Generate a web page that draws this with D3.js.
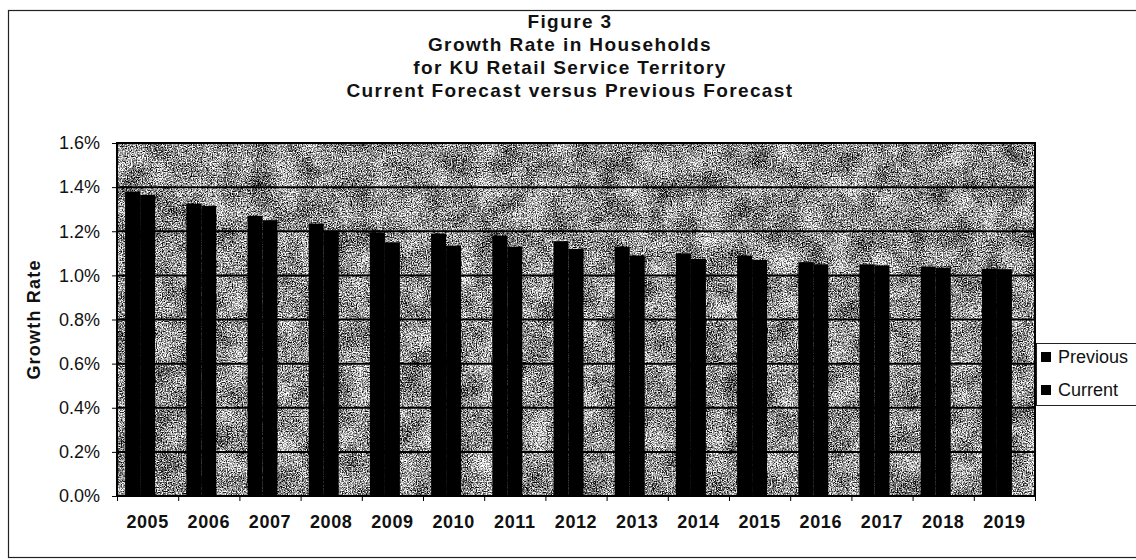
<!DOCTYPE html>
<html>
<head>
<meta charset="utf-8">
<script src="https://cdn.jsdelivr.net/npm/d3@7"></script>
<style>
  html, body { margin: 0; padding: 0; background: #fff; }
  svg { display: block; font-family: "Liberation Sans", Arial, sans-serif; }
</style>
</head>
<body>
<svg id="chart" width="1136" height="560"></svg>
<script>
// Household growth rate by forecast year (percent)
const years = ["2005","2006","2007","2008","2009","2010","2011","2012","2013","2014","2015","2016","2017","2018","2019"];
const previousForecast = [1.38, 1.325, 1.27, 1.235, 1.195, 1.19, 1.18, 1.155, 1.13, 1.10, 1.09, 1.06, 1.05, 1.04, 1.03];
const currentForecast  = [1.365, 1.315, 1.25, 1.20, 1.15, 1.135, 1.13, 1.12, 1.09, 1.075, 1.07, 1.05, 1.045, 1.035, 1.028];
const seriesNames = ["Previous", "Current"];
const yTicks = [0, 0.2, 0.4, 0.6, 0.8, 1.0, 1.2, 1.4, 1.6];
const titleLines = [
  "Figure 3",
  "Growth Rate in Households",
  "for KU Retail Service Territory",
  "Current Forecast versus Previous Forecast"
];

const svg = d3.select("#chart");
const plot = { left: 117, right: 1035, top: 143, bottom: 496 };

// mottled grey background for the plot area: fine grain lightly modulated by soft blotches
const defs = svg.append("defs");
const grain = defs.append("filter").attr("id", "grain")
  .attr("x", 0).attr("y", 0).attr("width", 1).attr("height", 1)
  .attr("color-interpolation-filters", "sRGB");
grain.append("feTurbulence").attr("type", "fractalNoise")
  .attr("baseFrequency", "0.8").attr("numOctaves", 2).attr("seed", 11).attr("result", "fineRaw");
grain.append("feColorMatrix").attr("in", "fineRaw").attr("type", "matrix")
  .attr("values", "1 0 0 0 0  1 0 0 0 0  1 0 0 0 0  0 0 0 0 1").attr("result", "fine");
grain.append("feTurbulence").attr("type", "fractalNoise")
  .attr("baseFrequency", "0.04").attr("numOctaves", 3).attr("seed", 4).attr("result", "coarseRaw");
grain.append("feColorMatrix").attr("in", "coarseRaw").attr("type", "matrix")
  .attr("values", "1 0 0 0 0  1 0 0 0 0  1 0 0 0 0  0 0 0 0 1").attr("result", "coarse");
grain.append("feComposite").attr("in", "fine").attr("in2", "coarse").attr("operator", "arithmetic")
  .attr("k1", 0).attr("k2", 1).attr("k3", 0.3).attr("k4", -0.15).attr("result", "mix");
grain.append("feColorMatrix").attr("in", "mix").attr("type", "matrix")
  .attr("values", "2.4 0 0 0 -0.64  2.4 0 0 0 -0.64  2.4 0 0 0 -0.64  0 0 0 0 1");

// outer chart frame
svg.append("rect")
  .attr("x", 8.5).attr("y", 10.5).attr("width", 1160).attr("height", 547)
  .attr("fill", "none").attr("stroke", "#222").attr("stroke-width", 1.2);

// plot area
svg.append("rect")
  .attr("x", plot.left).attr("y", plot.top)
  .attr("width", plot.right - plot.left).attr("height", plot.bottom - plot.top)
  .attr("fill", "#999").attr("filter", "url(#grain)");

const y = d3.scaleLinear().domain([0, 1.6]).range([plot.bottom, plot.top]);
const x0 = d3.scaleBand().domain(years).range([plot.left, plot.right])
  .paddingInner(0.265).paddingOuter(0.1325);
// two bars fill the leading two thirds of each category group
const x1 = d3.scaleBand().domain(seriesNames).range([0, x0.bandwidth() * 2 / 3]);
const xEdge = d3.scaleLinear().domain([0, years.length]).range([plot.left, plot.right]);

// gridlines
svg.append("g").selectAll("line").data(yTicks).join("line")
  .attr("x1", plot.left).attr("x2", plot.right)
  .attr("y1", d => y(d)).attr("y2", d => y(d))
  .attr("stroke", "#000").attr("stroke-width", 2);

// bars
const rows = years.map((yr, i) => ({ year: yr, values: [
  { key: "Previous", v: previousForecast[i] },
  { key: "Current", v: currentForecast[i] }
]}));
svg.append("g").selectAll("g").data(rows).join("g")
  .attr("transform", d => `translate(${x0(d.year)},0)`)
  .selectAll("rect").data(d => d.values).join("rect")
  .attr("x", d => x1(d.key))
  .attr("width", x1.bandwidth())
  .attr("y", d => y(d.v))
  .attr("height", d => y(0) - y(d.v))
  .attr("fill", "#000");

// plot border
svg.append("rect")
  .attr("x", plot.left).attr("y", plot.top)
  .attr("width", plot.right - plot.left).attr("height", plot.bottom - plot.top)
  .attr("fill", "none").attr("stroke", "#000").attr("stroke-width", 2);

// y axis
const yAxis = svg.append("g").attr("transform", `translate(${plot.left},0)`)
  .call(d3.axisLeft(y).tickValues(yTicks).tickFormat(d => d.toFixed(1) + "%")
    .tickSize(5).tickPadding(12));
yAxis.select(".domain").remove();
yAxis.selectAll("text").attr("font-size", 18).attr("fill", "#111")
  .attr("font-family", "'Liberation Sans', Arial, sans-serif");

// x axis: boundary ticks and year labels
const xTicks = svg.append("g").attr("transform", `translate(0,${plot.bottom})`)
  .call(d3.axisBottom(xEdge).tickValues(d3.range(years.length + 1)).tickFormat("").tickSize(5));
xTicks.select(".domain").remove();
const xAxis = svg.append("g").attr("transform", `translate(0,${plot.bottom})`)
  .call(d3.axisBottom(x0).tickSize(0).tickPadding(19));
xAxis.select(".domain").remove();
xAxis.selectAll("text").attr("font-size", 18).attr("font-weight", "bold")
  .attr("letter-spacing", 0.6).attr("fill", "#111")
  .attr("font-family", "'Liberation Sans', Arial, sans-serif");

// y axis title
svg.append("text")
  .attr("transform", `translate(40,${(plot.top + plot.bottom) / 2}) rotate(-90)`)
  .attr("text-anchor", "middle")
  .attr("font-size", 18).attr("font-weight", "bold").attr("letter-spacing", 1.2)
  .attr("fill", "#111")
  .text("Growth Rate");

// title
svg.append("g").selectAll("text").data(titleLines).join("text")
  .attr("x", 570)
  .attr("y", (d, i) => 28 + i * 23)
  .attr("text-anchor", "middle")
  .attr("font-size", 19).attr("font-weight", "bold").attr("letter-spacing", 1.4)
  .attr("fill", "#111")
  .text(d => d);

// legend
const legend = svg.append("g");
legend.append("rect")
  .attr("x", 1036.5).attr("y", 343.5).attr("width", 120).attr("height", 62)
  .attr("fill", "#fff").attr("stroke", "#222").attr("stroke-width", 1);
const items = legend.selectAll("g.item").data(seriesNames).join("g")
  .attr("class", "item")
  .attr("transform", (d, i) => `translate(1041,${357 + i * 33})`);
items.append("rect").attr("x", 0).attr("y", -5).attr("width", 10).attr("height", 10).attr("fill", "#000");
items.append("text").attr("x", 17).attr("dy", "0.36em")
  .attr("font-size", 18).attr("fill", "#111").text(d => d);
</script>
</body>
</html>
